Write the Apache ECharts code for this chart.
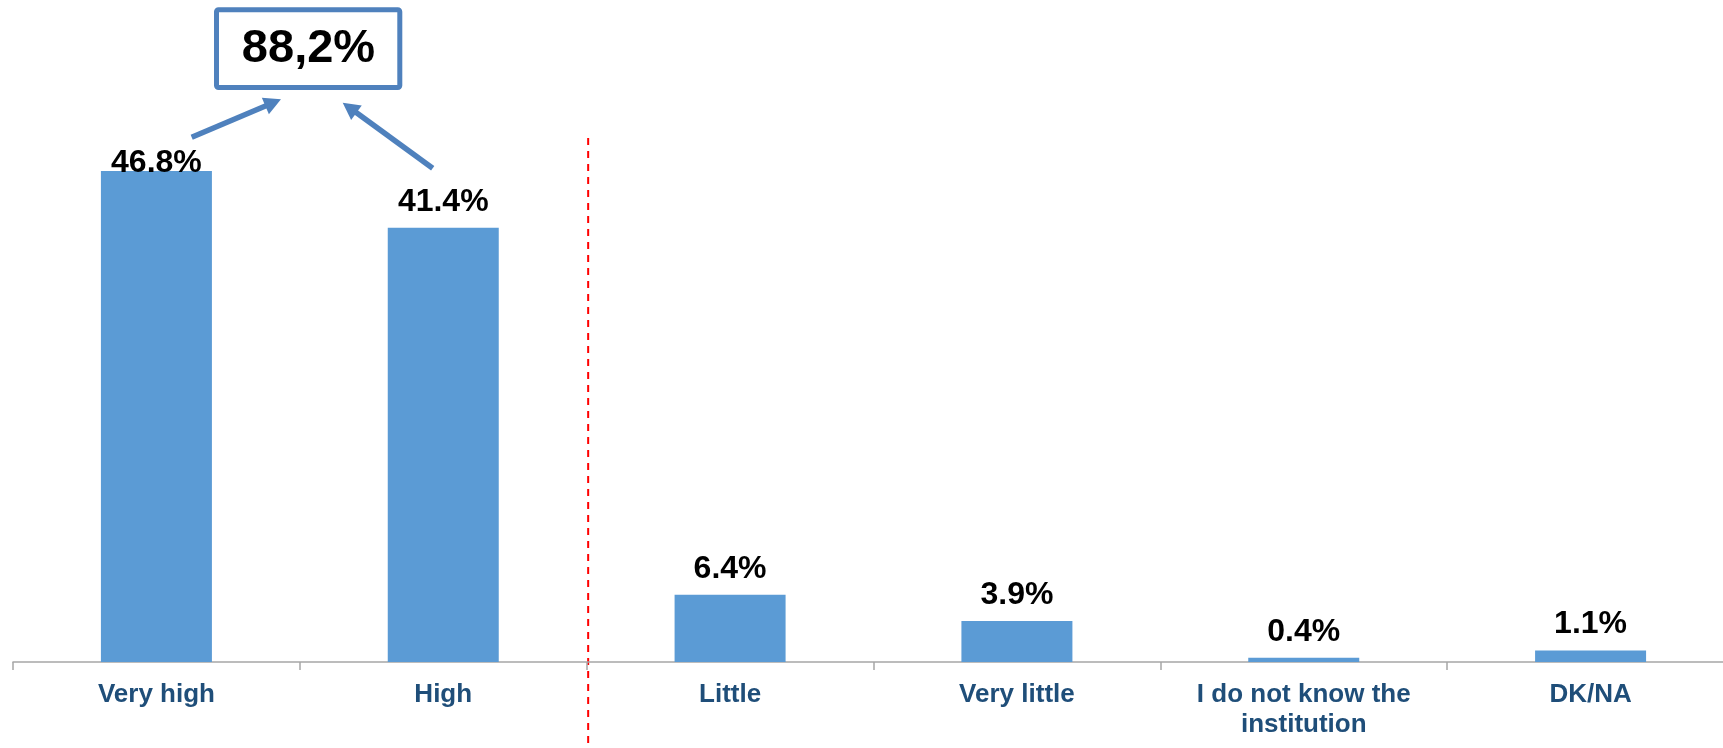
<!DOCTYPE html>
<html>
<head>
<meta charset="utf-8">
<script src="https://cdn.jsdelivr.net/npm/echarts@6/dist/echarts.min.js"></script>
<style>
html,body{margin:0;padding:0;background:#fff;}
#chart{width:1723px;height:748px;}
</style>
</head>
<body>
<div id="chart"></div>
<script>
const categories = ["Very high", "High", "Little", "Very little", "I do not know the\ninstitution", "DK/NA"];
const values = [46.8, 41.4, 6.4, 3.9, 0.4, 1.1];
const totalLabel = "88,2%";

const FONT = "'Liberation Sans', Arial, sans-serif";
const chart = echarts.init(document.getElementById('chart'));

const data = values.map((v, i) => {
  const d = { value: v };
  if (i === 0) d.label = { offset: [0, 18] };
  return d;
});

chart.setOption({
  animation: false,
  grid: { left: 13, right: -11, top: 32.6, bottom: 86, containLabel: false, outerBoundsMode: 'none' },
  xAxis: {
    type: 'category',
    data: categories,
    boundaryGap: true,
    axisLine: { show: true, lineStyle: { color: '#a6a6a6', width: 1.5 } },
    axisTick: { show: true, length: 8, interval: 0, lineStyle: { color: '#a6a6a6', width: 1.5 } },
    axisLabel: {
      interval: 0, margin: 18, fontFamily: FONT, fontSize: 26, fontWeight: 'bold',
      color: '#1f4e79', lineHeight: 30
    }
  },
  yAxis: {
    type: 'value', min: 0, max: 60, show: false,
    splitLine: { show: false }
  },
  series: [{
    type: 'bar',
    data: data,
    barWidth: 111,
    itemStyle: { color: '#5b9bd5' },
    label: {
      show: true, position: 'top', distance: 10,
      formatter: p => p.value.toFixed(1) + '%',
      fontFamily: FONT, fontSize: 32, fontWeight: 'bold', color: '#000'
    }
  }]
});

// annotations
const xHigh = chart.convertToPixel({ xAxisIndex: 0 }, categories[1]);
const xLittle = chart.convertToPixel({ xAxisIndex: 0 }, categories[2]);
const sepX = (xHigh + xLittle) / 2 + 1.5;

function arrow(tail, tip, color) {
  const dx = tip[0] - tail[0], dy = tip[1] - tail[1];
  const len = Math.sqrt(dx * dx + dy * dy);
  const ux = dx / len, uy = dy / len;
  const hl = 17, hw = 9;
  const bx = tip[0] - ux * hl, by = tip[1] - uy * hl;
  return [
    { type: 'line', shape: { x1: tail[0], y1: tail[1], x2: bx + ux * 2, y2: by + uy * 2 },
      style: { stroke: color, lineWidth: 5.5 } },
    { type: 'polygon', shape: { points: [tip, [bx - uy * hw, by + ux * hw], [bx + uy * hw, by - ux * hw]] },
      style: { fill: color } }
  ];
}

const blue = '#4f81bd';
chart.setOption({
  graphic: [
    { type: 'line', shape: { x1: sepX, y1: 138, x2: sepX, y2: 748 },
      style: { stroke: '#ff0000', lineWidth: 2, lineDash: [7, 6] } },
    { type: 'rect', shape: { x: 216.5, y: 9.8, width: 183.3, height: 77.7, r: 2 },
      style: { fill: '#fff', stroke: blue, lineWidth: 5 } },
    { type: 'text', x: 308.5, y: 49, style: { text: totalLabel, font: "bold 47px " + FONT,
      fill: '#000', align: 'center', verticalAlign: 'middle' } },
    ...arrow([191.7, 137.3], [281, 99.3], blue),
    ...arrow([432.7, 168.3], [342.7, 102.7], blue)
  ]
});
</script>
</body>
</html>
